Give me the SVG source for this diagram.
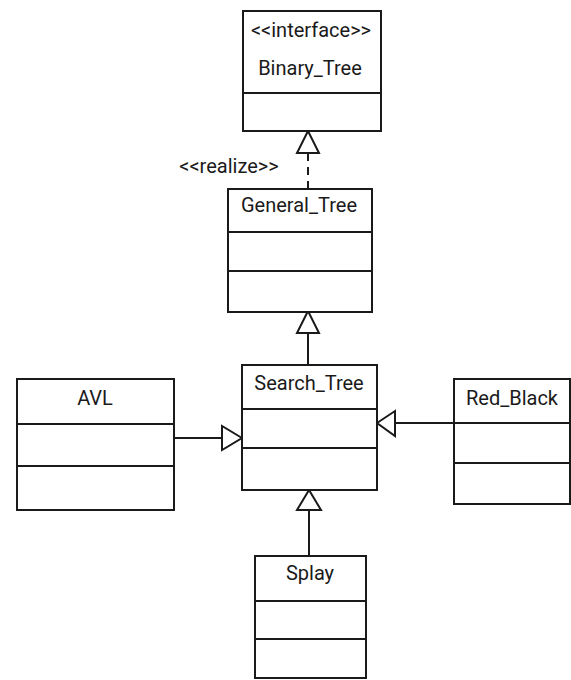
<svg xmlns="http://www.w3.org/2000/svg" width="571" height="680" viewBox="0 0 571 680">
<style>
.box{fill:#fff;stroke:#1a1a1a;stroke-width:2}
.div{stroke:#1a1a1a;stroke-width:2}
.t{font-family:Roboto,"Liberation Sans",sans-serif;font-size:20px;fill:#1a1a1a;text-anchor:middle}
.ln{stroke:#1a1a1a;stroke-width:2;fill:none}
.tri{fill:#fff;stroke:#1a1a1a;stroke-width:2;stroke-linejoin:miter}
</style>
<rect width="571" height="680" fill="#fff"/>
<g id="connectors">
  <line class="ln" x1="308" y1="153" x2="308" y2="189" stroke-dasharray="8,6"/>
  <polygon class="tri" points="308,131 297,153 319,153"/>
  <line class="ln" x1="308" y1="333" x2="308" y2="365"/>
  <polygon class="tri" points="308,311 297,333 319,333"/>
  <line class="ln" x1="309" y1="510" x2="309" y2="556"/>
  <polygon class="tri" points="309,490 297,510 321,510"/>
  <line class="ln" x1="174" y1="438" x2="222" y2="438"/>
  <polygon class="tri" points="242,438 222,426 222,450"/>
  <line class="ln" x1="395" y1="423" x2="454" y2="423"/>
  <polygon class="tri" points="377,423 395,411 395,436"/>
  <text class="t" x="229" y="173">&lt;&lt;realize&gt;&gt;</text>
</g>
<g id="Binary_Tree">
  <rect class="box" x="243" y="11" width="138" height="120"/>
  <line class="div" x1="243" y1="93" x2="381" y2="93"/>
  <text class="t" x="311" y="37">&lt;&lt;interface&gt;&gt;</text>
  <text class="t" x="310" y="75">Binary_Tree</text>
</g>
<g id="General_Tree">
  <rect class="box" x="228" y="189" width="144" height="123"/>
  <line class="div" x1="228" y1="232" x2="372" y2="232"/>
  <line class="div" x1="228" y1="271" x2="372" y2="271"/>
  <text class="t" x="299" y="212">General_Tree</text>
</g>
<g id="Search_Tree">
  <rect class="box" x="242" y="365" width="135" height="125"/>
  <line class="div" x1="242" y1="409" x2="377" y2="409"/>
  <line class="div" x1="242" y1="448" x2="377" y2="448"/>
  <text class="t" x="309" y="390">Search_Tree</text>
</g>
<g id="AVL">
  <rect class="box" x="17" y="379" width="157" height="131"/>
  <line class="div" x1="17" y1="424" x2="174" y2="424"/>
  <line class="div" x1="17" y1="466" x2="174" y2="466"/>
  <text class="t" x="95" y="405">AVL</text>
</g>
<g id="Red_Black">
  <rect class="box" x="454" y="379" width="116" height="125"/>
  <line class="div" x1="454" y1="423" x2="570" y2="423"/>
  <line class="div" x1="454" y1="463" x2="570" y2="463"/>
  <text class="t" x="512" y="405">Red_Black</text>
</g>
<g id="Splay">
  <rect class="box" x="255" y="556" width="111" height="122"/>
  <line class="div" x1="255" y1="601" x2="366" y2="601"/>
  <line class="div" x1="255" y1="639" x2="366" y2="639"/>
  <text class="t" x="310" y="580">Splay</text>
</g>
</svg>
